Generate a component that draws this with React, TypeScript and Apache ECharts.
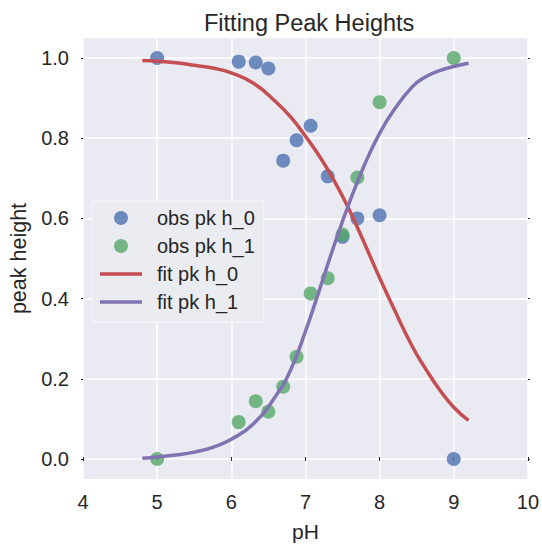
import React, { useEffect, useRef } from "react";
import * as echarts from "echarts";

const titleText = "Fitting Peak Heights";
const xTicks = [4, 5, 6, 7, 8, 9, 10];
const yTicks = [0, 0.2, 0.4, 0.6, 0.8, 1.0];

const phObs = [5.0, 6.1, 6.33, 6.5, 6.7, 6.88, 7.07, 7.3, 7.5, 7.7, 8.0, 9.0];
const obsH0 = [1.0, 0.991, 0.989, 0.974, 0.744, 0.795, 0.831, 0.705, 0.554, 0.6, 0.608, 0.0];
const obsH1 = [0.0, 0.092, 0.144, 0.118, 0.18, 0.255, 0.413, 0.451, 0.56, 0.702, 0.89, 1.0];

const fitPh = [4.8, 5.0, 5.25, 5.5, 5.75, 6.0, 6.3, 6.6, 6.8, 7.0, 7.2, 7.4, 7.6, 7.8, 8.0, 8.2, 8.44, 8.6, 8.8, 9.0, 9.2];
const fitH0 = [0.994, 0.992, 0.988, 0.982, 0.975, 0.963, 0.937, 0.891, 0.853, 0.805, 0.752, 0.69, 0.618, 0.536, 0.452, 0.372, 0.281, 0.231, 0.175, 0.129, 0.096];
const fitH1 = [0.002, 0.005, 0.01, 0.017, 0.029, 0.049, 0.088, 0.157, 0.222, 0.318, 0.428, 0.54, 0.643, 0.735, 0.812, 0.872, 0.928, 0.951, 0.968, 0.979, 0.987];

const BLUE = "#4C72B0";
const GREEN = "#55A868";
const RED = "#C44E52";
const PURPLE = "#8172B2";
const TEXT = "#262626";
const FONT = "Liberation Sans, Arial, sans-serif";
const LINE_ICON = "path://M0,0L42,0L42,3.5L0,3.5Z";

export default function App() {
  const ref = useRef<HTMLDivElement>(null);
  useEffect(() => {
    if (!ref.current) return;
    const chart = echarts.init(ref.current, undefined, { renderer: "svg" });
    const pair = (xs: number[], ys: number[]) => xs.map((x, i) => [x, ys[i]]);
    const tickStyle = { show: true, length: 2, lineStyle: { color: TEXT, width: 1 } };
    chart.setOption({
      animation: false,
      backgroundColor: "#FFFFFF",
      textStyle: { fontFamily: FONT },
      title: {
        text: titleText,
        left: 199,
        top: 6,
        textStyle: { fontSize: 23.5, fontWeight: "normal", color: TEXT, fontFamily: FONT },
      },
      grid: {
        left: 83,
        right: 13,
        top: 38,
        bottom: 63,
        show: true,
        backgroundColor: "#EAEAF2",
        borderWidth: 0,
      },
      legend: {
        left: 92,
        top: 201,
        orient: "vertical",
        itemWidth: 42,
        itemHeight: 14,
        itemGap: 8,
        symbolKeepAspect: true,
        padding: [7, 9, 10, 8],
        backgroundColor: "#EBEBF2",
        borderColor: "#F7F7FA",
        borderWidth: 1,
        textStyle: { fontSize: 20, color: TEXT, fontFamily: FONT, padding: [0, 0, 0, 10] },
        data: [
          { name: "obs pk h_0", icon: "circle" },
          { name: "obs pk h_1", icon: "circle" },
          { name: "fit pk h_0", icon: LINE_ICON },
          { name: "fit pk h_1", icon: LINE_ICON },
        ],
      },
      xAxis: [
        {
          type: "value",
          min: xTicks[0],
          max: xTicks[xTicks.length - 1],
          interval: 1,
          name: "pH",
          nameLocation: "middle",
          nameGap: 42,
          nameTextStyle: { fontSize: 21, color: TEXT, fontFamily: FONT },
          axisLine: { show: false },
          axisTick: tickStyle,
          axisLabel: { fontSize: 20, color: TEXT, margin: 13, fontFamily: FONT },
          splitLine: { show: true, lineStyle: { color: "#FFFFFF", width: 1.5 } },
        },
        {
          type: "value",
          position: "top",
          min: xTicks[0],
          max: xTicks[xTicks.length - 1],
          interval: 1,
          axisLine: { show: false },
          axisTick: tickStyle,
          axisLabel: { show: false },
          splitLine: { show: false },
        },
      ],
      yAxis: [
        {
          type: "value",
          min: -0.05,
          max: 1.05,
          name: "peak height",
          nameLocation: "middle",
          nameGap: 51,
          nameTextStyle: { fontSize: 21.5, color: TEXT, fontFamily: FONT },
          axisLine: { show: false },
          axisTick: { ...tickStyle, customValues: yTicks },
          axisLabel: {
            fontSize: 20,
            color: TEXT,
            margin: 14,
            fontFamily: FONT,
            customValues: yTicks,
            formatter: (v: number) => v.toFixed(1),
          },
          splitLine: { show: true, lineStyle: { color: "#FFFFFF", width: 1.5 } },
        },
        {
          type: "value",
          position: "right",
          min: -0.05,
          max: 1.05,
          axisLine: { show: false },
          axisTick: { ...tickStyle, customValues: yTicks },
          axisLabel: { show: false, customValues: yTicks },
          splitLine: { show: false },
        },
      ],
      series: [
        {
          name: "obs pk h_0",
          type: "scatter",
          symbol: "circle",
          symbolSize: 14,
          itemStyle: { color: BLUE, opacity: 0.8 },
          data: pair(phObs, obsH0),
          z: 2,
        },
        {
          name: "obs pk h_1",
          type: "scatter",
          symbol: "circle",
          symbolSize: 14,
          itemStyle: { color: GREEN, opacity: 0.8 },
          data: pair(phObs, obsH1),
          z: 2,
        },
        {
          name: "fit pk h_0",
          type: "line",
          symbol: "none",
          showSymbol: false,
          smooth: 0.5,
          lineStyle: { color: RED, width: 3.5 },
          itemStyle: { color: RED },
          data: pair(fitPh, fitH0),
          z: 3,
        },
        {
          name: "fit pk h_1",
          type: "line",
          symbol: "none",
          showSymbol: false,
          smooth: 0.5,
          lineStyle: { color: PURPLE, width: 3.5 },
          itemStyle: { color: PURPLE },
          data: pair(fitPh, fitH1),
          z: 3,
        },
      ],
    });
    return () => chart.dispose();
  }, []);
  return (
    <div
      ref={ref}
      style={{ position: "absolute", left: 0, top: 0, width: 542, height: 547 }}
    />
  );
}
